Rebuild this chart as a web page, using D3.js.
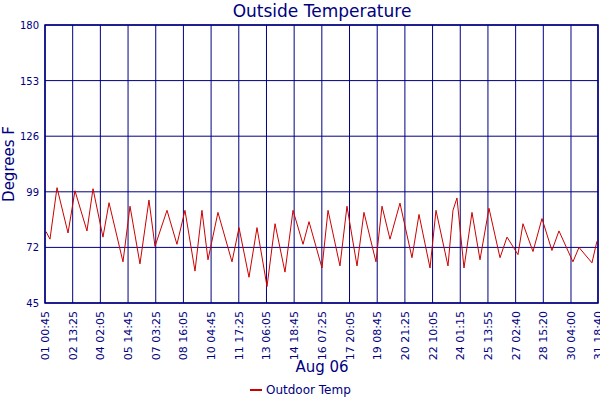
<!DOCTYPE html>
<html>
<head>
<script src="https://cdn.jsdelivr.net/npm/d3@7"></script>
<style>
  body { margin: 0; background: #fff; }
  text { font-family: "DejaVu Sans", sans-serif; fill: #000080; }
</style>
</head>
<body>
<svg id="chart" width="600" height="400"></svg>
<script>
// hours since Aug 01 00:45, and outdoor temperature
var hours = [1.3, 6.6, 15.9, 30.5, 39.7, 55.6, 63.6, 76.8, 84.8, 103.3, 112.6, 125.8, 137.7, 145.7,
  161.6, 174.8, 185.4, 198.7, 207.9, 215.9, 229.1, 247.7, 257.0, 270.2, 280.8, 294.1, 304.7, 317.9,
  328.5, 341.8, 349.7, 366.9, 374.9, 390.7, 400.0, 413.3, 422.5, 438.4, 446.4, 457.0, 470.2, 486.1,
  495.4, 510.0, 517.9, 533.8, 540.4, 545.7, 555.0, 565.6, 576.2, 588.1, 602.7, 612.0, 626.5, 633.1,
  646.4, 658.3, 671.5, 680.8, 699.3, 707.3, 724.5, 731.1];
var temps = [79.7, 76, 101, 79, 99.5, 80, 100.5, 77, 93.7, 65, 92, 64, 95, 72.5,
  90, 73.5, 90, 60.5, 90, 66, 89, 65, 81.6, 57.5, 81.6, 53, 83.5, 60,
  90, 73.5, 84.5, 62, 90, 63, 92, 63, 89, 65, 92, 76, 93.5, 67,
  88, 62, 90, 63, 90, 96, 62, 89, 66, 91, 67, 77, 68.5, 83.5,
  70, 86, 70.5, 80, 65, 72, 64.5, 75];
var tickLabels = ['01 00:45', '02 13:25', '04 02:05', '05 14:45', '07 03:25', '08 16:05', '10 04:45',
  '11 17:25', '13 06:05', '14 18:45', '16 07:25', '17 20:05', '19 08:45', '20 21:25', '22 10:05',
  '24 01:15', '25 13:55', '27 02:40', '28 15:20', '30 04:00', '31 18:40'];
var yTicks = [45, 72, 99, 126, 153, 180];

var pLeft = 45, pRight = 598, pTop = 25, pBottom = 303;
var svg = d3.select('#chart');

var x = d3.scaleLinear().domain([0, 732.5]).range([pLeft, pRight]);
var y = d3.scaleLinear().domain([45, 180]).range([pBottom, pTop]);
var tickPos = tickLabels.map((d, i) => i == tickLabels.length - 1 ? 732.5 : i * 36.67);

// grid
svg.append('g').selectAll('line').data(yTicks).enter().append('line')
  .attr('x1', pLeft).attr('x2', pRight).attr('y1', d => y(d)).attr('y2', d => y(d))
  .attr('stroke', '#000080');
svg.append('g').selectAll('line').data(tickPos).enter().append('line')
  .attr('x1', d => x(d)).attr('x2', d => x(d)).attr('y1', pTop).attr('y2', pBottom)
  .attr('stroke', '#000080');
svg.append('rect').attr('x', pLeft).attr('y', pTop).attr('width', pRight - pLeft).attr('height', pBottom - pTop)
  .attr('fill', 'none').attr('stroke', '#000080').attr('stroke-width', 1.5);

// line
var pts = hours.map((h, i) => [h, temps[i]]);
svg.append('path').datum(pts)
  .attr('fill', 'none').attr('stroke', '#cc0000').attr('stroke-width', 1)
  .attr('d', d3.line().x(d => x(d[0])).y(d => y(d[1])));

// y tick labels
svg.append('g').selectAll('text').data(yTicks).enter().append('text')
  .attr('x', pLeft - 6).attr('y', d => y(d) + 4).attr('text-anchor', 'end')
  .style('font-size', '10px').text(d => d);

// x tick labels
svg.append('g').selectAll('text').data(tickPos).enter().append('text')
  .attr('transform', d => 'translate(' + (x(d) + 4) + ',' + (pBottom + 8) + ') rotate(-90)')
  .attr('text-anchor', 'end').style('font-size', '11px')
  .text((d, i) => tickLabels[i]);

svg.append('text').attr('x', 322).attr('y', 17).attr('text-anchor', 'middle')
  .style('font-size', '17px').text('Outside Temperature');
svg.append('text').attr('transform', 'translate(14,164) rotate(-90)').attr('text-anchor', 'middle')
  .style('font-size', '15px').text('Degrees F');
svg.append('text').attr('x', 322).attr('y', 372).attr('text-anchor', 'middle')
  .style('font-size', '15px').text('Aug 06');

svg.append('line').attr('x1', 250).attr('x2', 262).attr('y1', 390).attr('y2', 390)
  .attr('stroke', '#cc0000').attr('stroke-width', 2);
svg.append('text').attr('x', 266).attr('y', 394).style('font-size', '12px').text('Outdoor Temp');
</script>
</body>
</html>
